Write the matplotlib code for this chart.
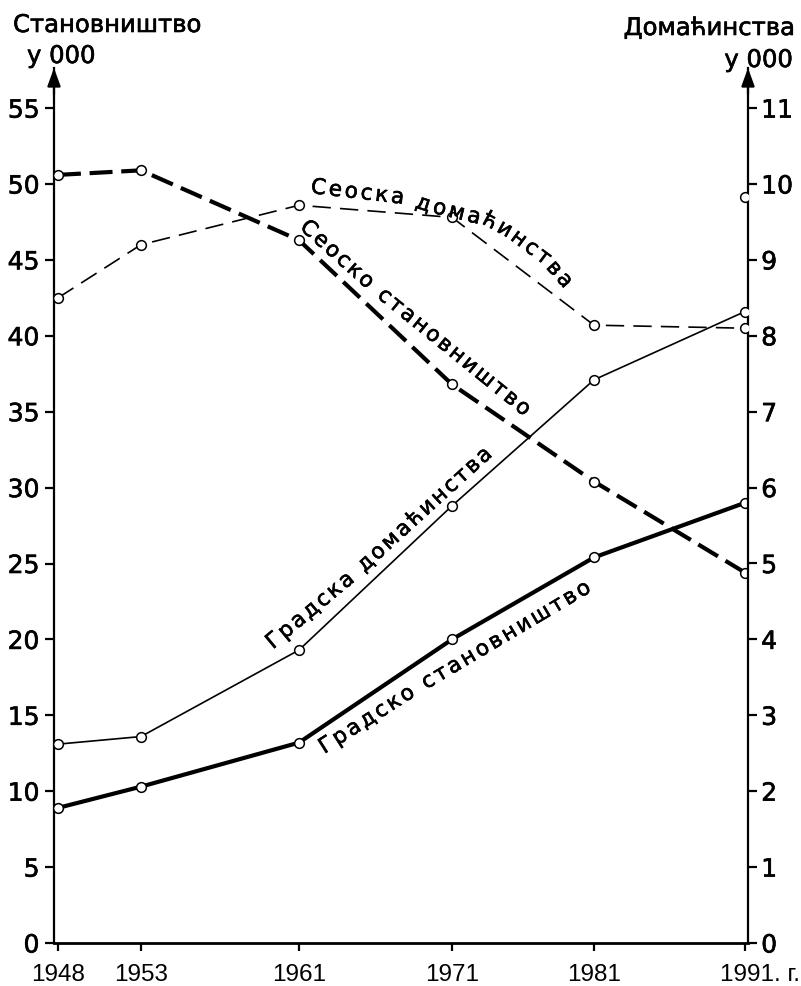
import numpy as np
import matplotlib
matplotlib.use("Agg")
import matplotlib.pyplot as plt
import matplotlib.patheffects as pe
from matplotlib.font_manager import FontProperties
from matplotlib.patches import FancyArrowPatch
from matplotlib.transforms import ScaledTranslation

# ---------------- data ----------------
years = [1948, 1953, 1961, 1971, 1981, 1991]
year_labels = ["1948", "1953", "1961", "1971", "1981", "1991. г."]
rural_pop = [50.6, 50.9, 46.3, 36.8, 30.4, 24.4]      # Сеоско становништво (000)
urban_pop = [8.9, 10.3, 13.2, 20.0, 25.4, 29.0]       # Градско становништво (000)
rural_hh = [8.50, 9.20, 9.72, 9.56, 8.14, 8.10]       # Сеоска домаћинства (000)
urban_hh = [2.62, 2.72, 3.86, 5.76, 7.42, 8.32]       # Градска домаћинства (000)
rural_hh_extra_year = [1991]
rural_hh_extra = [9.83]
left_ticks = list(range(0, 56, 5))
right_ticks = list(range(0, 12))

# ---------------- layout ----------------
W, H = 801, 986
fig = plt.figure(figsize=(W / 100, H / 100), dpi=100)
ax = fig.add_axes([54 / W, 43 / H, 694 / W, 875 / H])

semi = [pe.withStroke(linewidth=0.45, foreground="black")]

# hand-drawn, slightly uneven year spacing
YA = [1947, 1948, 1953, 1961, 1971, 1981, 1991, 1992]
PA = [41, 58, 141, 299, 452, 594, 745, 760]
fwd = lambda x: np.interp(x, YA, PA)
inv = lambda p: np.interp(p, PA, YA)
ax.set_xscale("function", functions=(fwd, inv))
ax.set_xlim(float(inv(54)), float(inv(748)))
ytop = 875 / 15.18
ax.set_ylim(0, ytop)

ax2 = ax.twinx()
ax2.set_ylim(0, ytop / 5)

mk = dict(marker="o", ms=7, mfc="white", mec="black", mew=1.1)
ax.plot(years, rural_pop, color="black", lw=3.0, dashes=(5.5, 2.1), zorder=3, **mk)
ax.plot(years, urban_pop, color="black", lw=3.0, zorder=3, **mk)
ax2.plot(years, rural_hh, color="black", lw=1.2, dashes=(11, 5.5), zorder=3, **mk)
ax2.plot(years, urban_hh, color="black", lw=1.2, zorder=3, **mk)
ax2.plot(rural_hh_extra_year, rural_hh_extra, linestyle="none", zorder=3, **mk)

# spines
for a in (ax, ax2):
    a.spines["top"].set_visible(False)
ax.spines["right"].set_visible(False)
ax2.spines["left"].set_visible(False)
ax2.spines["bottom"].set_visible(False)
ax.spines["left"].set_linewidth(1.6)
ax.spines["bottom"].set_linewidth(2.0)
ax2.spines["right"].set_linewidth(1.6)

# ticks
ax.set_yticks(left_ticks)
ax2.set_yticks(right_ticks)
ax.tick_params(axis="y", direction="out", length=6.5, width=1.6, pad=4,
               labelsize=18)
ax2.tick_params(axis="y", direction="out", length=6.5, width=1.6, pad=3,
                labelsize=18)
ax.set_xticks(years)
xfp = FontProperties(family=["Liberation Sans", "DejaVu Sans"], size=17.5)
ax.set_xticklabels(year_labels, fontproperties=xfp)
ax.tick_params(axis="x", direction="out", length=6, width=1.6, pad=9)
last = ax.get_xticklabels()[-1]
last.set_transform(last.get_transform() + ScaledTranslation(0.15, 0, fig.dpi_scale_trans))
for lab in ax.get_yticklabels() + ax2.get_yticklabels():
    lab.set_path_effects(semi)

# arrow heads on both vertical axes
for xa in (0.0, 1.0):
    arr = FancyArrowPatch((xa, 0.97), (xa, 1.0), transform=ax.transAxes,
                          arrowstyle="-|>,head_length=11,head_width=4.0",
                          mutation_scale=1, color="black", lw=1.6,
                          clip_on=False, shrinkA=0, shrinkB=0)
    ax2.add_artist(arr)

# axis titles
tfs = 17.5
for x, y, s, ha in [(13, 32, "Становништво", "left"), (27, 63, "у 000", "left"),
                    (795, 35, "Домаћинства", "right"), (793, 67, "у 000", "right")]:
    fig.text(x / W, 1 - y / H, s, fontsize=tfs, ha=ha, va="baseline",
             path_effects=semi)

# labels set along the lines
renderer = fig.canvas.get_renderer()
lfp = FontProperties(family="DejaVu Sans", size=15.5)


def wpx(s, fp):
    w, h, d = renderer.get_text_width_height_descent(s, fp, ismath=False)
    return w


def text_along(s, pts, fp):
    pts = np.array(pts, float)
    seg = np.diff(pts, axis=0)
    seglen = np.hypot(seg[:, 0], seg[:, 1])
    cum = np.r_[0, np.cumsum(seglen)]
    L = cum[-1]
    space_w = wpx("н н", fp) - wpx("нн", fp)
    widths = [space_w if ch == " " else wpx(ch, fp) for ch in s]
    gap = (L - sum(widths)) / (len(s) - 1)
    pos = 0.0
    for ch, w in zip(s, widths):
        c = pos + w / 2
        pos += w + gap
        if ch == " ":
            continue
        i = int(np.clip(np.searchsorted(cum, c) - 1, 0, len(seg) - 1))
        t = (c - cum[i]) / seglen[i]
        x, y = pts[i] + t * seg[i]
        ang = np.degrees(np.arctan2(-seg[i, 1], seg[i, 0]))
        fig.text(x / W, 1 - y / H, ch, fontproperties=fp, rotation=ang,
                 rotation_mode="anchor", ha="center", va="center",
                 path_effects=semi)


text_along("Сеоска домаћинства",
           [(311, 187), (405, 198), (430, 206), (488, 220), (510, 232),
            (545, 258), (569, 285)], lfp)
text_along("Сеоско становништво", [(303, 224), (370, 284), (528, 412)], lfp)
text_along("Градска домаћинства", [(269, 645), (353, 575), (489, 451)], lfp)
text_along("Градско становништво", [(321, 749), (412, 691), (589, 586)], lfp)

fig.savefig("out.png", dpi=100)
